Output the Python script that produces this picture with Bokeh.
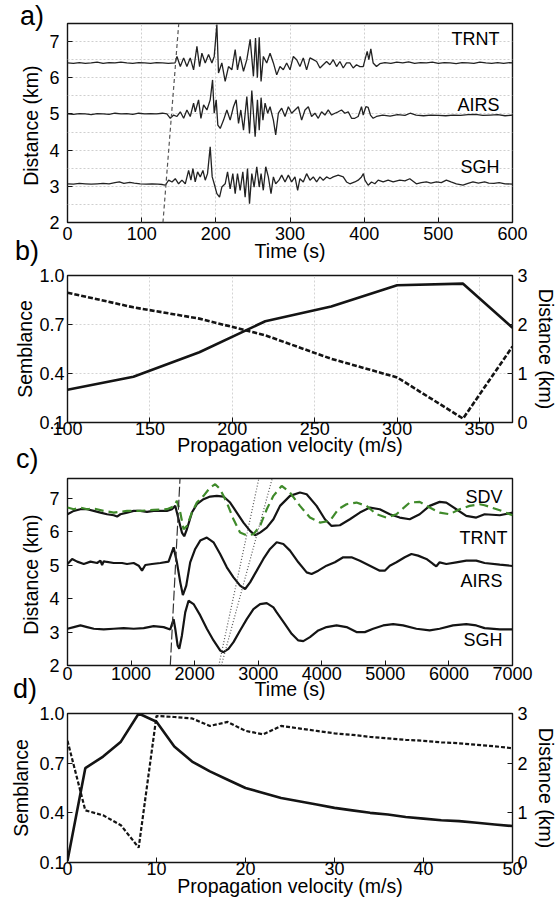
from bokeh.plotting import figure
from bokeh.layouts import column
from bokeh.models import Range1d, LinearAxis, FixedTicker, PrintfTickFormatter, Div
from bokeh.core.properties import value
from bokeh.embed import file_html
from bokeh.resources import INLINE

# ---------------- data ----------------
# panel a: seismograms (time s, distance km)
a_trnt = [(0,6.41),(8,6.40),(16,6.42),(24,6.40),(32,6.41),(40,6.43),(48,6.40),(56,6.42),(64,6.41),(72,6.43),
          (80,6.41),(88,6.40),(96,6.42),(104,6.41),(112,6.40),(120,6.42),(128,6.41),(136,6.40),(145,6.41),
          (147.6,6.59),(152.1,6.31),(156.6,6.55),(161.0,6.31),(165.5,6.55),(170.0,6.22),(174.5,6.87),(178.1,6.31),
          (181.2,6.68),(185.7,6.41),(190.2,6.64),(194.7,6.41),(197.8,6.59),(201.4,7.47),(203.6,6.13),(208.1,6.41),
          (212.6,5.90),(217.1,6.31),(221.6,6.22),(226.1,6.78),(229.2,6.22),(232.8,6.59),(237.3,6.18),(241.8,6.50),
          (246.3,7.06),(250.7,6.04),(253.5,7.10),(256.0,6.00),(258.5,7.12),(261.0,5.90),(264.1,6.59),(268.6,6.41),
          (273.1,6.68),(277.6,6.41),(282.1,6.08),(286.5,6.31),(291.0,6.22),(295.5,6.41),(300.0,6.22),(304.5,6.59),
          (309.0,6.50),(313.4,6.31),(317.9,6.55),(322.4,6.22),(326.9,6.55),(331.4,6.50),(335.9,6.45),(340.4,6.27),
          (344.8,6.36),(349.3,6.45),(353.8,6.36),(358.3,6.50),(362.8,6.31),(367.3,6.45),(371.8,6.27),(376.2,6.41),
          (380.7,6.41),(385.2,6.27),(389.7,6.36),(394.2,6.31),(398.7,6.31),(402.3,6.59),(404.1,6.73),(406.3,6.50),
          (409.0,6.80),(412.1,6.41),(416.6,6.31),(421.1,6.39),(428,6.42),(436,6.40),(444,6.43),(452,6.41),(460,6.44),
          (468,6.40),(476,6.42),(484,6.41),(492,6.43),(500,6.40),(508,6.42),(516,6.41),(524,6.39),(532,6.42),
          (540,6.41),(548,6.40),(556,6.43),(564,6.41),(572,6.40),(580,6.42),(588,6.40),(596,6.42),(600,6.41)]
a_airs = [(0,5.00),(8,4.99),(16,5.01),(24,5.00),(32,4.98),(40,5.01),(48,5.00),(56,4.99),(64,5.02),(72,5.00),
          (80,5.01),(88,4.99),(96,5.02),(104,5.00),(112,5.01),(120,5.00),(128,5.02),(134,5.00),(138.6,4.88),
          (143.1,4.97),(147.6,4.93),(152.1,5.06),(156.6,4.88),(161.0,5.11),(165.5,4.93),(170.0,5.30),(172.3,5.06),
          (176.7,5.39),(179.9,4.88),(183.5,5.25),(188.0,5.11),(192.4,5.39),(195.6,5.94),(197.8,5.02),(200.5,5.39),
          (202.7,4.69),(205.9,4.60),(210.4,4.83),(214.9,5.11),(219.3,4.83),(223.8,5.20),(227.4,5.39),(230.6,4.74),
          (233.7,5.11),(237.3,4.55),(241.8,5.48),(245.4,4.46),(248.5,5.65),(253.0,4.37),(256.1,5.39),(258.5,4.55),
          (261.0,5.45),(263.5,4.83),(266.4,5.30),(269.9,5.02),(273.1,5.20),(277.6,4.83),(280.7,4.42),(284.3,5.02),
          (288.8,5.16),(293.3,4.93),(297.8,5.20),(302.2,5.02),(306.7,5.11),(311.2,5.20),(315.7,4.83),(320.2,5.11),
          (324.7,5.20),(329.1,4.93),(333.6,5.02),(338.1,4.88),(342.6,5.06),(347.1,4.97),(351.6,5.11),(356.1,4.97),
          (360.5,5.02),(365.0,5.06),(369.5,5.11),(374.0,5.02),(378.5,5.06),(383.0,4.88),(387.4,4.88),(391.9,4.93),
          (396.4,5.20),(398.7,4.97),(402.3,5.20),(405.4,5.18),(408.5,4.97),(412.1,4.88),(416.6,4.93),(425,4.97),
          (435,4.94),(445,4.98),(455,4.96),(462,5.02),(470,4.97),(480,4.95),(490,4.97),(500,4.96),(510,4.95),
          (520,4.97),(530,4.96),(540,4.98),(550,4.99),(560,4.96),(570,4.97),(580,4.98),(590,4.95),(600,4.97)]
a_sgh = [(0,3.07),(8,3.06),(16,3.08),(24,3.07),(32,3.06),(40,3.07),(48,3.08),(56,3.07),(64,3.10),(70,3.12),
         (76,3.08),(84,3.11),(90,3.09),(98,3.07),(106,3.06),(114,3.07),(122,3.06),(128,3.05),(131.9,3.03),
         (136.4,3.17),(140.9,3.12),(145.3,3.21),(149.8,3.07),(154.3,3.17),(158.8,3.07),(163.3,3.44),(166.4,3.17),
         (169.1,3.49),(172.2,3.12),(175.4,3.40),(179.0,3.26),(182.6,3.44),(185.7,3.17),(188.8,3.35),(192.4,4.09),
         (195.1,3.26),(197.8,3.07),(201.4,2.80),(205.0,2.70),(208.1,2.98),(212.6,3.07),(215.8,3.40),(219.3,2.93),
         (222.9,3.35),(226.1,2.80),(229.2,3.35),(232.8,2.89),(236.4,3.40),(239.5,2.70),(242.7,3.49),(245.4,2.52),
         (248.5,3.35),(251.6,2.98),(255.2,3.54),(258.5,2.98),(261.0,3.35),(264.0,2.89),(267.3,3.54),(270.8,3.26),
         (274.4,2.80),(277.6,3.26),(280.7,3.07),(285.2,3.17),(288.8,3.31),(293.3,3.12),(297.8,3.31),(302.2,3.12),
         (306.7,3.26),(310.3,2.89),(313.4,3.21),(317.9,3.12),(322.4,3.35),(326.9,3.17),(331.4,3.26),(335.9,3.12),
         (340.4,3.26),(344.8,3.17),(349.3,3.26),(353.8,3.21),(358.3,3.26),(365.0,3.31),(371.8,3.26),(376.2,3.12),
         (380.7,3.07),(387.4,3.12),(391.9,3.17),(396.4,3.26),(399.0,3.35),(401.0,3.17),(405.4,3.03),(409.9,3.12),
         (414.4,3.07),(418.9,3.17),(425.6,3.12),(432.3,3.17),(439.1,3.12),(448.0,3.17),(455,3.15),(461.5,3.21),
         (470.4,3.07),(477,3.10),(483.9,3.12),(490,3.09),(497.4,3.12),(504,3.10),(510.8,3.17),(517,3.12),
         (524.3,3.07),(533.2,3.03),(540,3.08),(546.7,3.12),(554,3.09),(562.4,3.12),(568,3.09),(575,3.08),
         (582,3.10),(590,3.07),(600,3.06)]
a_move_t = [128.7, 150.0]
a_move_d = [2.0, 7.5]
a_names = ["TRNT", "AIRS", "SGH"]
a_name_t = [582.5, 582.5, 582.5]
a_name_d = [7.06, 5.25, 3.53]
a_xticks = [0, 100, 200, 300, 400, 500, 600]
a_yticks = [2, 3, 4, 5, 6, 7]

# panel b: semblance / distance vs propagation velocity
b_vel = [100, 140, 180, 220, 260, 300, 340, 370]
b_semb = [0.30, 0.38, 0.53, 0.72, 0.81, 0.94, 0.95, 0.68]
b_dist = [2.65, 2.35, 2.12, 1.78, 1.30, 0.92, 0.08, 1.55]
b_xticks = [100, 150, 200, 250, 300, 350]

# panel c: low-pass traces
c_sdv = [(0,6.73),(99,6.68),(204,6.73),(309,6.68),(413,6.70),(570,6.63),(727,6.58),(936,6.63),(1146,6.63),
         (1355,6.66),(1564,6.68),(1669,6.76),(1721,6.93),(1774,6.58),(1826,6.08),(1878,6.18),(1957,6.58),
         (2035,6.88),(2140,7.08),(2244,7.33),(2323,7.43),(2401,7.28),(2506,6.88),(2611,6.38),(2715,5.98),
         (2820,5.90),(2925,5.93),(3029,6.18),(3134,6.68),(3239,7.08),(3369,7.38),(3500,7.18),(3657,6.78),
         (3814,6.43),(3971,6.28),(4128,6.33),(4259,6.68),(4389,6.83),(4546,6.88),(4703,6.78),(4860,6.53),
         (5017,6.43),(5174,6.53),(5383,6.88),(5540,6.90),(5697,6.73),(5854,6.58),(6011,6.53),(6168,6.68),
         (6325,6.78),(6482,6.83),(6561,6.80),(6800,6.65),(7000,6.50)]
c_trnt = [(0,6.53),(99,6.63),(204,6.68),(309,6.68),(413,6.63),(518,6.58),(622,6.53),(727,6.50),(780,6.46),
          (832,6.53),(936,6.58),(1041,6.63),(1146,6.63),(1250,6.60),(1355,6.63),(1460,6.63),(1564,6.63),
          (1643,6.68),(1695,6.78),(1747,6.38),(1800,5.98),(1836,5.87),(1878,6.08),(1957,6.58),(2035,6.83),
          (2140,6.98),(2244,7.06),(2349,7.08),(2454,7.06),(2558,6.88),(2663,6.58),(2768,6.28),(2872,6.03),
          (2951,5.90),(3029,5.98),(3134,6.13),(3239,6.38),(3343,6.78),(3500,7.08),(3657,7.18),(3762,7.13),
          (3918,6.78),(4049,6.38),(4154,6.18),(4285,6.20),(4442,6.38),(4599,6.58),(4756,6.73),(4912,6.68),
          (5070,6.53),(5226,6.43),(5383,6.38),(5540,6.53),(5697,6.78),(5854,6.90),(5959,6.88),(6116,6.68),
          (6273,6.48),(6430,6.43),(6561,6.53),(6800,6.50),(7000,6.58)]
c_airs = [(0,5.04),(73,5.19),(152,5.11),(256,5.04),(361,5.11),(466,5.07),(518,5.14),(544,5.01),(570,5.12),
          (596,5.11),(727,5.07),(858,5.07),(936,5.04),(1041,5.07),(1120,4.99),(1172,4.84),(1224,5.01),
          (1329,5.04),(1460,5.07),(1590,5.11),(1669,5.54),(1721,5.09),(1774,4.49),(1815,4.11),(1868,4.39),
          (1930,5.09),(2009,5.49),(2088,5.74),(2192,5.83),(2297,5.69),(2401,5.34),(2506,4.94),(2611,4.64),
          (2715,4.39),(2794,4.29),(2872,4.49),(2977,4.84),(3081,5.19),(3186,5.49),(3291,5.69),(3395,5.64),
          (3500,5.44),(3631,5.09),(3762,4.79),(3840,4.74),(3945,4.84),(4075,4.99),(4206,5.09),(4337,5.24),
          (4468,5.24),(4599,5.14),(4756,4.99),(4912,4.84),(4991,4.84),(5070,4.99),(5174,5.09),(5305,5.24),
          (5410,5.34),(5514,5.29),(5645,5.19),(5750,5.04),(5802,4.97),(5854,5.09),(5959,5.04),(6116,5.09),
          (6273,5.14),(6430,5.14),(6561,5.07),(6800,5.02),(7000,4.98)]
c_sgh = [(0,3.10),(99,3.15),(204,3.20),(309,3.15),(413,3.10),(570,3.08),(727,3.10),(884,3.12),(1041,3.10),
         (1198,3.12),(1355,3.18),(1512,3.15),(1617,3.08),(1669,3.39),(1695,3.10),(1732,2.60),(1758,2.50),
         (1800,2.90),(1852,3.59),(1904,3.94),(1983,3.84),(2088,3.50),(2192,3.10),(2297,2.75),(2401,2.45),
         (2454,2.40),(2532,2.50),(2611,2.70),(2715,3.05),(2820,3.39),(2925,3.69),(3029,3.84),(3134,3.87),
         (3239,3.74),(3291,3.59),(3421,3.24),(3526,2.95),(3631,2.75),(3709,2.73),(3814,2.85),(3945,3.05),
         (4075,3.15),(4232,3.20),(4389,3.15),(4546,3.00),(4677,3.00),(4808,3.10),(4965,3.20),(5122,3.24),
         (5279,3.20),(5488,3.10),(5697,3.05),(5854,3.10),(6064,3.20),(6273,3.24),(6430,3.20),(6561,3.12),
         (6800,3.08),(7000,3.08)]
c_onset_t = [1617, 1770]
c_onset_d = [2.0, 7.6]
c_slow1_t = [2380, 3010]
c_slow2_t = [2420, 3220]
c_slow_d = [2.0, 7.6]
c_names = ["SDV", "TRNT", "AIRS", "SGH"]
c_name_t = [6843, 6922, 6843, 6843]
c_name_d = [7.06, 5.83, 4.54, 2.75]
c_xticks = [0, 1000, 2000, 3000, 4000, 5000, 6000, 7000]

# panel d
d_vel = [0, 2, 4, 6, 8, 10, 12, 14, 16, 18, 20, 22, 24, 26, 28, 30, 32, 34, 36, 38, 40, 42, 44, 46, 48, 50]
d_semb = [0.11, 0.67, 0.74, 0.83, 1.00, 0.95, 0.80, 0.71, 0.65, 0.60, 0.55, 0.52, 0.49, 0.47, 0.45, 0.43,
          0.415, 0.40, 0.39, 0.375, 0.365, 0.355, 0.35, 0.34, 0.33, 0.32]
d_dist = [2.45, 1.05, 0.95, 0.75, 0.30, 2.95, 2.93, 2.90, 2.75, 2.83, 2.65, 2.58, 2.75, 2.70, 2.65, 2.60,
          2.57, 2.53, 2.50, 2.47, 2.45, 2.42, 2.40, 2.37, 2.34, 2.30]
d_xticks = [0, 10, 20, 30, 40, 50]

semb_ticks = [0.1, 0.4, 0.7, 1.0]
dist_ticks = [0, 1, 2, 3]
panel_tags = ["a)", "b)", "c)", "d)"]

# ---------------- style ----------------
FONT = "Liberation Sans"
TICK_FS = "18px"
LAB_FS = "19.5px"
NAME_FS = "18px"
INK = "#141414"
FRAME_W = 445


def make_fig(frame_h, top, bottom, xr, yr):
    p = figure(frame_width=FRAME_W, frame_height=frame_h, min_border_left=67, min_border_right=44,
               min_border_top=top, min_border_bottom=bottom,
               x_range=Range1d(*xr), y_range=Range1d(*yr),
               output_backend="svg", toolbar_location=None)
    p.outline_line_color = INK
    p.outline_line_width = 1.4
    p.xgrid.grid_line_color = None
    p.ygrid.grid_line_color = None
    return p


def style_axis(ax, standoff, lab_standoff):
    ax.axis_line_color = None
    ax.major_tick_in = 5
    ax.major_tick_out = 0
    ax.major_tick_line_color = INK
    ax.minor_tick_line_color = None
    ax.major_label_text_font = FONT
    ax.major_label_text_font_size = TICK_FS
    ax.major_label_text_color = "black"
    ax.axis_label_text_font = FONT
    ax.axis_label_text_font_size = LAB_FS
    ax.axis_label_text_font_style = "normal"
    ax.axis_label_text_color = "black"
    ax.major_label_standoff = standoff
    ax.axis_label_standoff = lab_standoff


def tag_div(text, left, top):
    return Div(text=text, width=36, height=32,
               styles={"position": "absolute", "left": f"{left}px", "top": f"{top}px",
                       "font-family": FONT, "font-size": "27px", "line-height": "normal",
                       "color": "black", "z-index": "5", "margin": "0", "padding": "0"})


def unzip(pairs):
    return [a for a, _ in pairs], [b for _, b in pairs]


# ---------------- panel a ----------------
pa = make_fig(199, 23, 43, (0, 600), (2, 7.5))
pa.xaxis.ticker = FixedTicker(ticks=a_xticks)
pa.yaxis.ticker = FixedTicker(ticks=a_yticks)
pa.xaxis.axis_label = "Time (s)"
pa.yaxis.axis_label = "Distance  (km)"
style_axis(pa.xaxis[0], 4, -3)
style_axis(pa.yaxis[0], 8, 4)
pa.xgrid.ticker = FixedTicker(ticks=[100, 200, 300, 400, 500])
pa.xgrid.grid_line_color = "#cfcfcf"
pa.xgrid.grid_line_dash = "2 2"
pa.ygrid.ticker = FixedTicker(ticks=[2.5, 3, 3.5, 4, 4.5, 5, 5.5, 6, 6.5, 7])
pa.ygrid.grid_line_color = "#cfcfcf"
pa.ygrid.grid_line_dash = "2 2"
for tr in (a_trnt, a_airs, a_sgh):
    t, d = unzip(tr)
    pa.line(t, d, line_color="#222222", line_width=1.3)
pa.line(a_move_t, a_move_d, line_color="#555555", line_width=1.2, line_dash="4 3")
pa.text(x=a_name_t, y=a_name_d, text=a_names, text_align="right", text_baseline="middle",
        text_font=value(FONT), text_font_size=NAME_FS, text_color="black")

# ---------------- panel b ----------------
pb = make_fig(147, 10, 54, (100, 370), (0.1, 1.0))
pb.extra_y_ranges = {"dist": Range1d(0, 3)}
pb.xaxis.ticker = FixedTicker(ticks=b_xticks)
pb.yaxis.ticker = FixedTicker(ticks=semb_ticks)
pb.yaxis.formatter = PrintfTickFormatter(format="%.1f")
pb.xaxis.axis_label = "Propagation velocity (m/s)"
pb.yaxis.axis_label = "Semblance"
style_axis(pb.xaxis[0], -1, -4)
style_axis(pb.yaxis[0], 3, 0)
rb = LinearAxis(y_range_name="dist", ticker=FixedTicker(ticks=dist_ticks), axis_label="Distance (km)")
style_axis(rb, 5, 4)
pb.add_layout(rb, "right")
pb.xgrid.ticker = FixedTicker(ticks=[150, 200, 250, 300, 350])
pb.xgrid.grid_line_color = "#d4d4d4"
pb.xgrid.grid_line_dash = "2 2"
pb.ygrid.ticker = FixedTicker(ticks=[0.4, 0.7])
pb.ygrid.grid_line_color = "#d4d4d4"
pb.ygrid.grid_line_dash = "2 2"
pb.line(b_vel, b_semb, line_color=INK, line_width=2.6)
pb.line(b_vel, b_dist, y_range_name="dist", line_color=INK, line_width=2.6, line_dash="5 2")

# ---------------- panel c ----------------
pc = make_fig(187, 2, 38, (0, 7000), (2, 7.6))
pc.xaxis.ticker = FixedTicker(ticks=c_xticks)
pc.yaxis.ticker = FixedTicker(ticks=a_yticks)
pc.xaxis.axis_label = "Time (s)"
pc.yaxis.axis_label = "Distance  (km)"
style_axis(pc.xaxis[0], 1, -5)
style_axis(pc.yaxis[0], 8, 4)
for tr in (c_trnt, c_airs, c_sgh):
    t, d = unzip(tr)
    pc.line(t, d, line_color=INK, line_width=2.2)
t, d = unzip(c_sdv)
pc.line(t, d, line_color="#3f8a2a", line_width=2.2, line_dash="9 5")
pc.line(c_onset_t, c_onset_d, line_color="#333333", line_width=1.2, line_dash="10 3")
pc.line(c_slow1_t, c_slow_d, line_color="#555555", line_width=1.2, line_dash="1 2")
pc.line(c_slow2_t, c_slow_d, line_color="#555555", line_width=1.2, line_dash="1 2")
pc.text(x=c_name_t, y=c_name_d, text=c_names, text_align="right", text_baseline="middle",
        text_font=value(FONT), text_font_size=NAME_FS, text_color="black")

# ---------------- panel d ----------------
pd_ = make_fig(149, 10, 38, (0, 50), (0.1, 1.0))
pd_.extra_y_ranges = {"dist": Range1d(0, 3)}
pd_.xaxis.ticker = FixedTicker(ticks=d_xticks)
pd_.yaxis.ticker = FixedTicker(ticks=semb_ticks)
pd_.yaxis.formatter = PrintfTickFormatter(format="%.1f")
pd_.xaxis.axis_label = "Propagation velocity (m/s)"
pd_.yaxis.axis_label = "Semblance"
style_axis(pd_.xaxis[0], -1, -3)
style_axis(pd_.yaxis[0], 3, 4)
rd = LinearAxis(y_range_name="dist", ticker=FixedTicker(ticks=dist_ticks), axis_label="Distance (km)")
style_axis(rd, 5, 4)
pd_.add_layout(rd, "right")
pd_.line(d_vel, d_semb, line_color=INK, line_width=2.6)
pd_.line(d_vel, d_dist, y_range_name="dist", line_color=INK, line_width=2.2, line_dash="4 2")

tags = [tag_div(panel_tags[0], 20, 1), tag_div(panel_tags[1], 15, 236),
        tag_div(panel_tags[2], 16, 444), tag_div(panel_tags[3], 13, 674)]

layout = column(pa, pb, pc, pd_, *tags, spacing=0)
open("out.html", "w").write(file_html(layout, INLINE))
